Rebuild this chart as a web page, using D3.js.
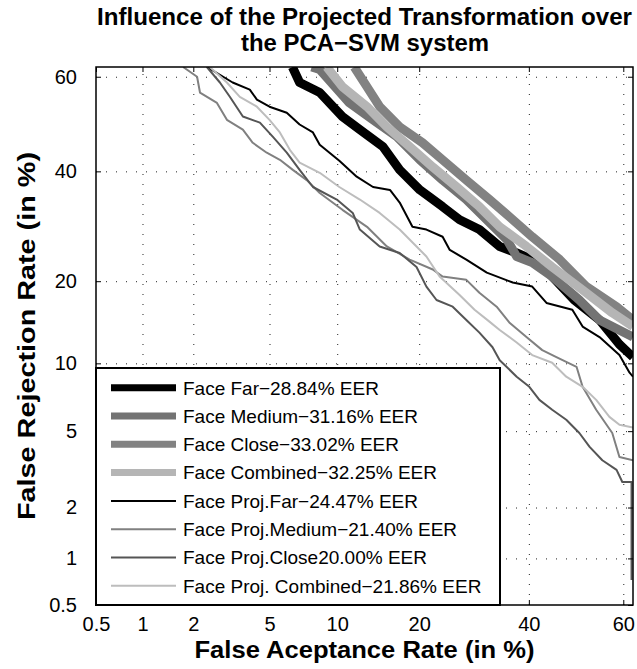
<!DOCTYPE html>
<html>
<head>
<meta charset="utf-8">
<script src="https://cdn.jsdelivr.net/npm/d3@7"></script>
<style>
  body { margin: 0; background: #fff; }
  text { font-family: "Liberation Sans", Arial, Helvetica, sans-serif; fill: #000; }
</style>
</head>
<body>
<svg id="chart" width="637" height="669"></svg>
<script>
const margin = { top: 67, right: 4, bottom: 64, left: 96 };
const width = 637 - margin.left - margin.right;
const height = 669 - margin.top - margin.bottom;

// ! tick values (in %)
const tickVals = [0.5, 1, 2, 5, 10, 20, 40, 60];
const axisMin = 0.5;
const axisMax = 62;

// ! curves: [false acceptance %, false rejection %]
const faceFar = [[6.4,62],[6.9,58.8],[8.45,56.7],[10.5,51.6],[12.3,48.8],[15.0,45.2],[17.2,40.3],[20.1,36.2],[23.7,32.9],[26.6,30.4],[30.2,28.6],[34.1,25.6],[37.5,24.5],[42.2,22.9],[44.9,20.7],[49.6,17.3],[55.0,14.7],[59.2,11.9],[62,10.6]];
const faceMedium = [[7.8,62],[8.45,61.5],[11.2,54.5],[13.8,50.9],[16.8,47.3],[20.1,42.4],[23.7,38.2],[27.8,34.3],[31.6,30.4],[35.5,26.8],[37.5,23.9],[40.7,22.9],[44.9,20.7],[50.7,17.3],[55.0,14.7],[62,12.7]];
const faceClose = [[11.7,62],[13.1,57.9],[14.6,53.7],[17.2,49.4],[20.5,46.0],[23.7,42.4],[27.8,38.2],[32.1,34.3],[36.0,31.0],[40.7,27.3],[46.5,23.4],[52.2,19.2],[58.6,16.4],[62,14.7]];
const faceCombined = [[9.05,62],[10.5,57.9],[13.1,53.7],[15.5,49.4],[18.6,45.2],[22.1,40.9],[26.1,36.8],[30.2,32.9],[34.1,29.1],[39.5,25.6],[44.9,22.2],[51.4,18.7],[57.7,15.6],[62,13.9]];
const projFar = [[2.38,62],[3.27,58.8],[4.0,57.3],[4.34,55.2],[5.0,53.7],[6.03,52.4],[6.9,49.9],[7.9,48.2],[8.45,45.6],[10.2,42.2],[11.96,38.9],[13.8,36.8],[15.9,36.2],[17.2,33.7],[19.0,29.1],[21.1,28.6],[23.7,27.3],[24.9,25.0],[27.8,23.4],[31.6,21.3],[36.7,19.8],[40.7,19.2],[43.7,16.9],[49.2,16.0],[51.4,13.9],[55.0,12.7],[59.2,10.8],[61.3,9.15],[62,8.8]];
const projMedium = [[1.75,62],[2.1,60],[2.18,56.7],[2.7,54.5],[3.05,50.9],[3.69,48.8],[4.14,46.0],[4.85,43.9],[5.6,42.4],[6.43,40.3],[7.42,38.2],[8.45,35.6],[10.5,32.3],[13.1,29.1],[15.5,25.6],[18.6,23.4],[22.1,21.8],[23.7,20.7],[27.8,20.2],[30.2,18.3],[33.5,16.4],[36.0,14.4],[39.5,12.7],[42.8,11.3],[45.8,10.6],[50.1,9.68],[51.4,7.97],[54.3,6.3],[57.7,4.9],[59.2,3.73],[62,3.59]];
const projClose = [[2.38,62],[2.8,58.8],[3.16,55.8],[3.69,51.6],[4.49,50.3],[5.18,47.3],[6.03,43.9],[6.9,40.3],[7.9,36.8],[9.96,34.3],[11.54,31.7],[12.3,28.6],[14.6,25.6],[17.2,24.5],[19.6,22.2],[21.1,19.2],[22.7,17.3],[25.4,16.4],[27.8,14.7],[30.2,13.2],[32.7,11.6],[34.1,10.3],[37.5,8.8],[40.1,7.97],[42.2,6.98],[44.9,6.3],[47.9,5.66],[50.7,4.9],[52.9,4.19],[55.6,3.59],[58.6,3.2],[59.8,2.76],[61.7,2.76],[61.7,0.73]];
const projCombined = [[2.47,62],[3.05,58.8],[3.56,55.8],[4.34,53.7],[5.0,50.9],[5.6,48.2],[6.23,44.5],[6.9,41.8],[8.45,39.7],[10.2,36.8],[12.3,34.3],[14.6,31.7],[17.2,28.6],[19.6,25.6],[21.1,23.9],[23.2,20.7],[26.6,18.0],[29.3,16.0],[32.1,14.5],[34.1,13.5],[37.5,12.1],[40.7,10.8],[44.9,10.05],[47.9,8.8],[51.4,7.97],[54.3,6.98],[57.1,5.84],[59.2,5.36],[62,5.2]];

const labels = [
  "Face Far\u221228.84% EER",
  "Face Medium\u221231.16% EER",
  "Face Close\u221233.02% EER",
  "Face Combined\u221232.25% EER",
  "Face Proj.Far\u221224.47% EER",
  "Face Proj.Medium\u221221.40% EER",
  "Face Proj.Close20.00% EER",
  "Face Proj. Combined\u221221.86% EER"
];
const curves = [faceFar, faceMedium, faceClose, faceCombined, projFar, projMedium, projClose, projCombined];

// line styles for each series
const colors = ["#000000", "#737373", "#828282", "#b5b5b5", "#000000", "#808080", "#555555", "#bdbdbd"];
const widths = [9, 9, 9, 9, 2, 2, 2, 2];

// inverse normal cdf (Acklam) -> DET axis
function probit(p) {
  const a = [-3.969683028665376e+01, 2.209460984245205e+02, -2.759285104469687e+02, 1.383577518672690e+02, -3.066479806614716e+01, 2.506628277459239e+00];
  const b = [-5.447609879822406e+01, 1.615858368580409e+02, -1.556989798598866e+02, 6.680131188771972e+01, -1.328068155288572e+01];
  const c = [-7.784894002430293e-03, -3.223964580411365e-01, -2.400758277161838e+00, -2.549671010434048e+00, 4.374664141464968e+00, 2.938163982698783e+00];
  const d = [7.784695709041462e-03, 3.224671290700398e-01, 2.445134137142996e+00, 3.754408661907416e+00];
  const pl = 0.02425;
  let q, r;
  if (p < pl) {
    q = Math.sqrt(-2 * Math.log(p));
    return (((((c[0]*q+c[1])*q+c[2])*q+c[3])*q+c[4])*q+c[5]) / ((((d[0]*q+d[1])*q+d[2])*q+d[3])*q+1);
  }
  if (p <= 1 - pl) {
    q = p - 0.5; r = q * q;
    return (((((a[0]*r+a[1])*r+a[2])*r+a[3])*r+a[4])*r+a[5])*q / (((((b[0]*r+b[1])*r+b[2])*r+b[3])*r+b[4])*r+1);
  }
  q = Math.sqrt(-2 * Math.log(1 - p));
  return -(((((c[0]*q+c[1])*q+c[2])*q+c[3])*q+c[4])*q+c[5]) / ((((d[0]*q+d[1])*q+d[2])*q+d[3])*q+1);
}

// a small scale wrapper so d3.axis can use it
function probitScale(lin) {
  const s = (v) => lin(probit(v / 100));
  s.copy = () => probitScale(lin.copy());
  s.range = () => lin.range();
  s.domain = () => [axisMin, axisMax];
  return s;
}

const x = probitScale(d3.scaleLinear().domain([probit(axisMin / 100), probit(axisMax / 100)]).range([0, width]));
const y = probitScale(d3.scaleLinear().domain([probit(axisMin / 100), probit(axisMax / 100)]).range([height, 0]));

const svgRoot = d3.select("#chart");
const svg = svgRoot.append("g").attr("transform", `translate(${margin.left},${margin.top})`);

svg.append("clipPath").attr("id", "clip")
  .append("rect").attr("width", width).attr("height", height);

// dotted grid
const gridX = svg.append("g").attr("transform", `translate(0,${height})`)
  .call(d3.axisBottom(x).tickValues(tickVals.slice(1)).tickSize(-height).tickFormat(""));
const gridY = svg.append("g")
  .call(d3.axisLeft(y).tickValues(tickVals.slice(1)).tickSize(-width).tickFormat(""));
[gridX, gridY].forEach((g) => {
  g.select(".domain").remove();
  g.selectAll("line").attr("stroke", "#222").attr("stroke-width", 1).attr("stroke-dasharray", "1,9");
});

// curves
const line = d3.line().x((d) => x(d[0])).y((d) => y(d[1]));
const plot = svg.append("g").attr("clip-path", "url(#clip)");
curves.forEach(function (c, i) {
  plot.append("path")
    .datum(c)
    .attr("fill", "none")
    .attr("stroke", colors[i])
    .attr("stroke-width", widths[i])
    .attr("stroke-linejoin", "round")
    .attr("stroke-linecap", "butt")
    .attr("d", line);
});

// axes with inner ticks on all four sides
function styleAxis(g) {
  g.select(".domain").remove();
  g.selectAll("line").attr("stroke", "#000").attr("stroke-width", 1);
  g.selectAll("text").style("font-size", "20px").attr("fill", "#000");
}
svg.append("g").attr("transform", `translate(0,${height})`)
  .call(d3.axisBottom(x).tickValues(tickVals).tickSizeInner(-5).tickSizeOuter(0).tickPadding(12).tickFormat(d3.format("")))
  .call(styleAxis);
svg.append("g")
  .call(d3.axisLeft(y).tickValues(tickVals).tickSizeInner(-5).tickSizeOuter(0).tickPadding(19).tickFormat(d3.format("")))
  .call(styleAxis);
svg.append("g")
  .call(d3.axisTop(x).tickValues(tickVals).tickSizeInner(-5).tickSizeOuter(0).tickFormat(""))
  .call(styleAxis);
svg.append("g").attr("transform", `translate(${width},0)`)
  .call(d3.axisRight(y).tickValues(tickVals).tickSizeInner(-5).tickSizeOuter(0).tickFormat(""))
  .call(styleAxis);

svg.append("rect")
  .attr("width", width).attr("height", height)
  .attr("fill", "none").attr("stroke", "#000").attr("stroke-width", 1.5);

// legend
const legend = svg.append("g").attr("transform", "translate(0,301)");
legend.append("rect")
  .attr("width", 404).attr("height", 237)
  .attr("fill", "#fff").attr("stroke", "#000").attr("stroke-width", 2);
labels.forEach(function (lab, i) {
  const cy = 19.7 + i * 28.3;
  legend.append("line")
    .attr("x1", 15).attr("x2", 80).attr("y1", cy).attr("y2", cy)
    .attr("stroke", colors[i]).attr("stroke-width", widths[i] > 2 ? 7 : 2);
  legend.append("text")
    .attr("x", 87).attr("y", cy).attr("dy", "0.36em")
    .style("font-size", "19px")
    .text(lab);
});

// titles
svgRoot.append("text")
  .attr("x", margin.left + width / 2).attr("y", 25)
  .attr("text-anchor", "middle")
  .attr("textLength", 535).attr("lengthAdjust", "spacingAndGlyphs")
  .style("font-size", "23px").style("font-weight", "bold")
  .text("Influence of the Projected Transformation over");
svgRoot.append("text")
  .attr("x", 365).attr("y", 51)
  .attr("text-anchor", "middle")
  .attr("textLength", 248).attr("lengthAdjust", "spacingAndGlyphs")
  .style("font-size", "23px").style("font-weight", "bold")
  .text("the PCA\u2212SVM system");
svgRoot.append("text")
  .attr("x", margin.left + width / 2).attr("y", 658)
  .attr("text-anchor", "middle")
  .attr("textLength", 340).attr("lengthAdjust", "spacingAndGlyphs")
  .style("font-size", "23px").style("font-weight", "bold")
  .text("False Aceptance Rate (in %)");
svgRoot.append("text")
  .attr("transform", `translate(35,${margin.top + height / 2}) rotate(-90)`)
  .attr("text-anchor", "middle")
  .attr("textLength", 368).attr("lengthAdjust", "spacingAndGlyphs")
  .style("font-size", "24px").style("font-weight", "bold")
  .text("False Rejection Rate (in %)");
</script>
</body>
</html>
